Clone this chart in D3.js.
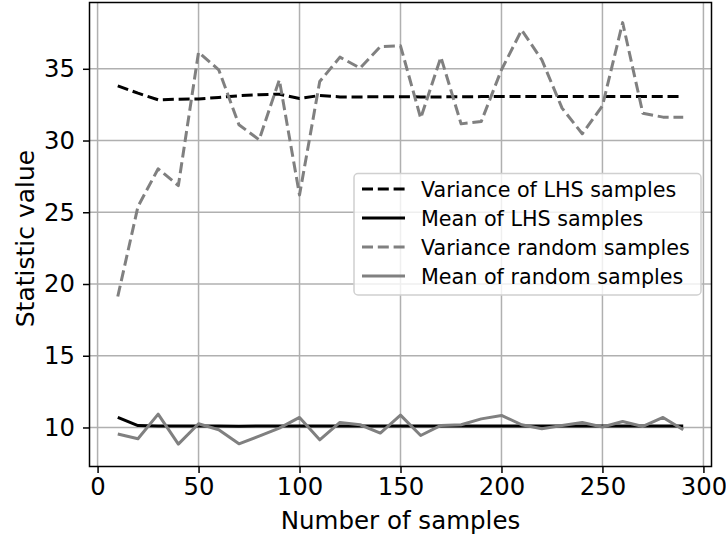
<!DOCTYPE html>
<html>
<head>
<meta charset="utf-8">
<script src="https://cdn.jsdelivr.net/npm/d3@7"></script>
<style>
  html, body { margin: 0; padding: 0; background: #fff; }
  svg { display: block; }
  text { font-family: "DejaVu Sans", sans-serif; fill: #000; }
</style>
</head>
<body>
<svg id="chart" width="726" height="537"></svg>
<script>
// ---- data ----
const sampleSizes = [10,20,30,40,50,60,70,80,90,100,110,120,130,140,150,160,170,180,190,200,210,220,230,240,250,260,270,280,290];
const varianceLHS = [33.81,33.30,32.84,32.88,32.90,33.00,33.12,33.19,33.23,32.93,33.14,33.04,33.04,33.05,33.05,33.04,33.04,33.05,33.06,33.07,33.07,33.06,33.06,33.06,33.06,33.07,33.07,33.07,33.07];
const meanLHS = [10.70,10.13,10.10,10.11,10.10,10.10,10.09,10.10,10.10,10.10,10.10,10.10,10.10,10.10,10.10,10.10,10.10,10.10,10.10,10.10,10.10,10.10,10.10,10.10,10.10,10.10,10.10,10.10,10.10];
const varianceRandom = [19.13,25.40,28.03,26.86,36.16,34.93,31.10,30.05,34.23,26.20,34.11,35.81,35.05,36.55,36.60,31.56,35.81,31.16,31.33,34.93,37.70,35.62,32.26,30.47,32.42,38.22,31.90,31.63,31.63];
const meanRandom = [9.54,9.21,10.93,8.84,10.26,9.84,8.86,9.40,9.95,10.70,9.14,10.35,10.19,9.61,10.86,9.44,10.14,10.19,10.60,10.84,10.19,9.91,10.14,10.35,10.03,10.42,10.07,10.70,9.84];
const xTicks = [0,50,100,150,200,250,300];
const yTicks = [10,15,20,25,30,35];
const seriesNames = ["Variance of LHS samples","Mean of LHS samples","Variance random samples","Mean of random samples"];
const seriesColors = ["#000000","#000000","#808080","#808080"];
const seriesDashed = [true,false,true,false];
const xLabel = "Number of samples";
const yLabel = "Statistic value";

// ---- layout ----
const svg = d3.select("#chart");
const pL = 89.5, pR = 711.5, pT = 2.5, pB = 466.5;
const x = d3.scaleLinear().domain([-4, 304]).range([pL, pR]);
const y = d3.scaleLinear().domain([7.28, 39.62]).range([pB, pT]);

const tickFont = 24.3, labelFont = 24.5, yLabelFont = 25, legendFont = 20.7;
const lw = 3;

// grid
const grid = svg.append("g");
grid.selectAll("line.vx").data(xTicks).join("line")
  .attr("x1", d => x(d)).attr("x2", d => x(d)).attr("y1", pT).attr("y2", pB)
  .attr("stroke", "#b0b0b0").attr("stroke-width", 1.5);
grid.selectAll("line.hy").data(yTicks).join("line")
  .attr("x1", pL).attr("x2", pR).attr("y1", d => y(d)).attr("y2", d => y(d))
  .attr("stroke", "#b0b0b0").attr("stroke-width", 1.5);

// series
const allSeries = [varianceLHS, meanLHS, varianceRandom, meanRandom];
const line = d3.line().x((d, i) => x(sampleSizes[i])).y(d => y(d));
[0, 1, 2, 3].forEach(k => {
  svg.append("path")
    .datum(allSeries[k])
    .attr("d", line)
    .attr("fill", "none")
    .attr("stroke", seriesColors[k])
    .attr("stroke-width", lw)
    .attr("stroke-dasharray", seriesDashed[k] ? "11,4.8" : null)
    .attr("stroke-linejoin", "round");
});

// axes
const xAxis = d3.axisBottom(x).tickValues(xTicks).tickSize(6.5).tickPadding(4.5).tickFormat(d3.format("d"));
const yAxis = d3.axisLeft(y).tickValues(yTicks).tickSize(6.5).tickPadding(8).tickFormat(d3.format("d"));
const gx = svg.append("g").attr("transform", `translate(0,${pB})`).call(xAxis);
const gy = svg.append("g").attr("transform", `translate(${pL},0)`).call(yAxis);
[gx, gy].forEach(g => {
  g.select(".domain").remove();
  g.selectAll(".tick line").attr("stroke", "#000").attr("stroke-width", 1.5);
  g.selectAll(".tick text").attr("font-size", tickFont).attr("font-family", "DejaVu Sans").attr("fill", "#000");
});

// frame
svg.append("rect").attr("x", pL).attr("y", pT).attr("width", pR - pL).attr("height", pB - pT)
  .attr("fill", "none").attr("stroke", "#000").attr("stroke-width", 1.5);

// axis labels
svg.append("text").attr("x", (pL + pR) / 2).attr("y", 528.5)
  .attr("text-anchor", "middle").attr("font-size", labelFont).text(xLabel);
svg.append("text").attr("transform", `translate(33.5,${(pT + pB) / 2 + 4}) rotate(-90)`)
  .attr("text-anchor", "middle").attr("font-size", yLabelFont).text(yLabel);

// legend
const lg = svg.append("g");
lg.append("rect").attr("x", 354).attr("y", 173.5).attr("width", 347).attr("height", 121.5)
  .attr("rx", 4).attr("fill", "rgba(255,255,255,0.8)").attr("stroke", "#d0d0d0").attr("stroke-width", 1.5);
const rowY = [189, 218, 247, 276];
seriesNames.forEach((name, k) => {
  lg.append("line").attr("x1", 362).attr("x2", 405).attr("y1", rowY[k]).attr("y2", rowY[k])
    .attr("stroke", seriesColors[k]).attr("stroke-width", lw)
    .attr("stroke-dasharray", seriesDashed[k] ? "11,4.8" : null);
  lg.append("text").attr("x", 421).attr("y", rowY[k] + 7.5)
    .attr("font-size", legendFont).attr("fill", "#1a1a1a").text(name);
});
</script>
</body>
</html>
